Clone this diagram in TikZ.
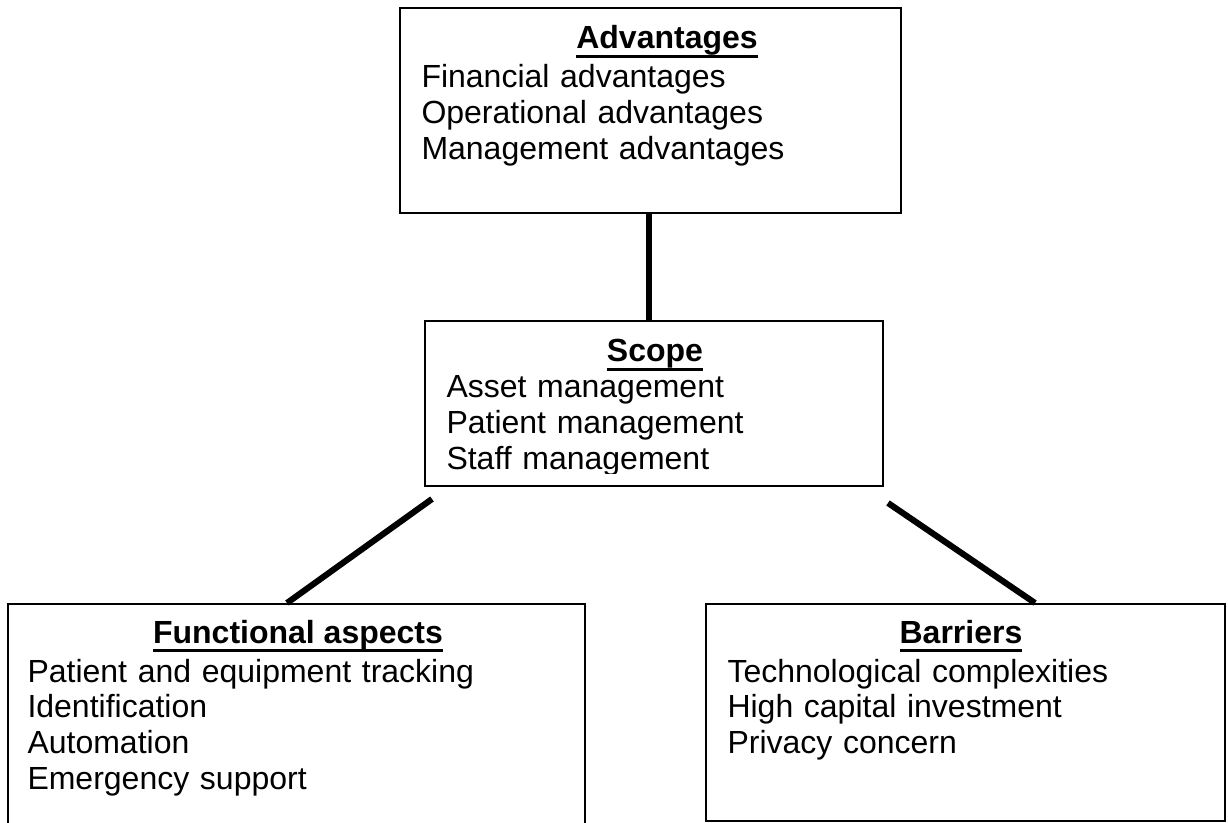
\documentclass[tikz,border=0pt]{standalone}
\usepackage{fontspec}
\setmainfont{Liberation Sans}
\usetikzlibrary{calc,fit}

\newcommand{\boxtitle}[1]{\setbox0\hbox{\bfseries #1}\rlap{\vrule width\wd0 height -4.6pt depth 6.6pt}\box0}

\tikzset{every picture/.style={line width=0.75pt},
  boxshape/.style={draw, line width=1.5pt, rectangle, inner sep=0pt},
  headtext/.style={inner sep=0pt, font=\fontsize{24}{26.8}\selectfont},
  listtext/.style={inner sep=0pt, text width=420pt, align=left, font=\fontsize{24}{26.8}\selectfont},
  link/.style={line width=4.6pt}
}

\begin{document}
\begin{tikzpicture}[x=0.75pt,y=0.75pt,yscale=-1,xscale=1]
\useasboundingbox (0,0) rectangle (1228,823);

%Shape: Rectangle [Advantages]
\node [boxshape, fit={(400,8) (901,213)}] (adv) {};
%Shape: Rectangle [Scope]
\node [boxshape, fit={(425,321) (883,486)}] (scope) {};
%Shape: Rectangle [Functional aspects]
\node [boxshape, fit={(8,604) (585,828)}] (func) {};
%Shape: Rectangle [Barriers]
\node [boxshape, fit={(706,604) (1225,821)}] (barr) {};

%Straight Lines
\draw [link] ($(adv.south)+(-1.5,0)$) -- ($(scope.north)+(-5,0)$) ;
\draw [link] ($(scope.south west)+(8,12)$) -- ($(func.north)+(-9.5,0)$) ;
\draw [link] ($(scope.south east)+(4,16)$) -- ($(barr.north)+(69.5,0)$) ;

% Text Node
\node [headtext, anchor=base] (advHead) at (667,49) {\boxtitle{Advantages}};
\node [listtext, anchor=base west] (advList) at (421,88) {Financial advantages\\Operational advantages\\Management advantages};
% Text Node
\node [headtext, anchor=base] (scopeHead) at (655,362) {\boxtitle{Scope}};
\begin{scope}
\clip (425,321) rectangle (883,473);
\node [listtext, anchor=base west] (scopeList) at (446,398) {Asset management\\Patient management\\Staff management};
\end{scope}
% Text Node
\node [headtext, anchor=base] (funcHead) at (298,643) {\boxtitle{Functional aspects}};
\node [listtext, anchor=base west] (funcList) at (27,682) {Patient and equipment tracking\\Identification\\Automation\\Emergency support};
% Text Node
\node [headtext, anchor=base] (barrHead) at (961,643) {\boxtitle{Barriers}};
\node [listtext, anchor=base west] (barrList) at (727,682) {Technological complexities\\High capital investment\\Privacy concern};

\end{tikzpicture}
\end{document}
